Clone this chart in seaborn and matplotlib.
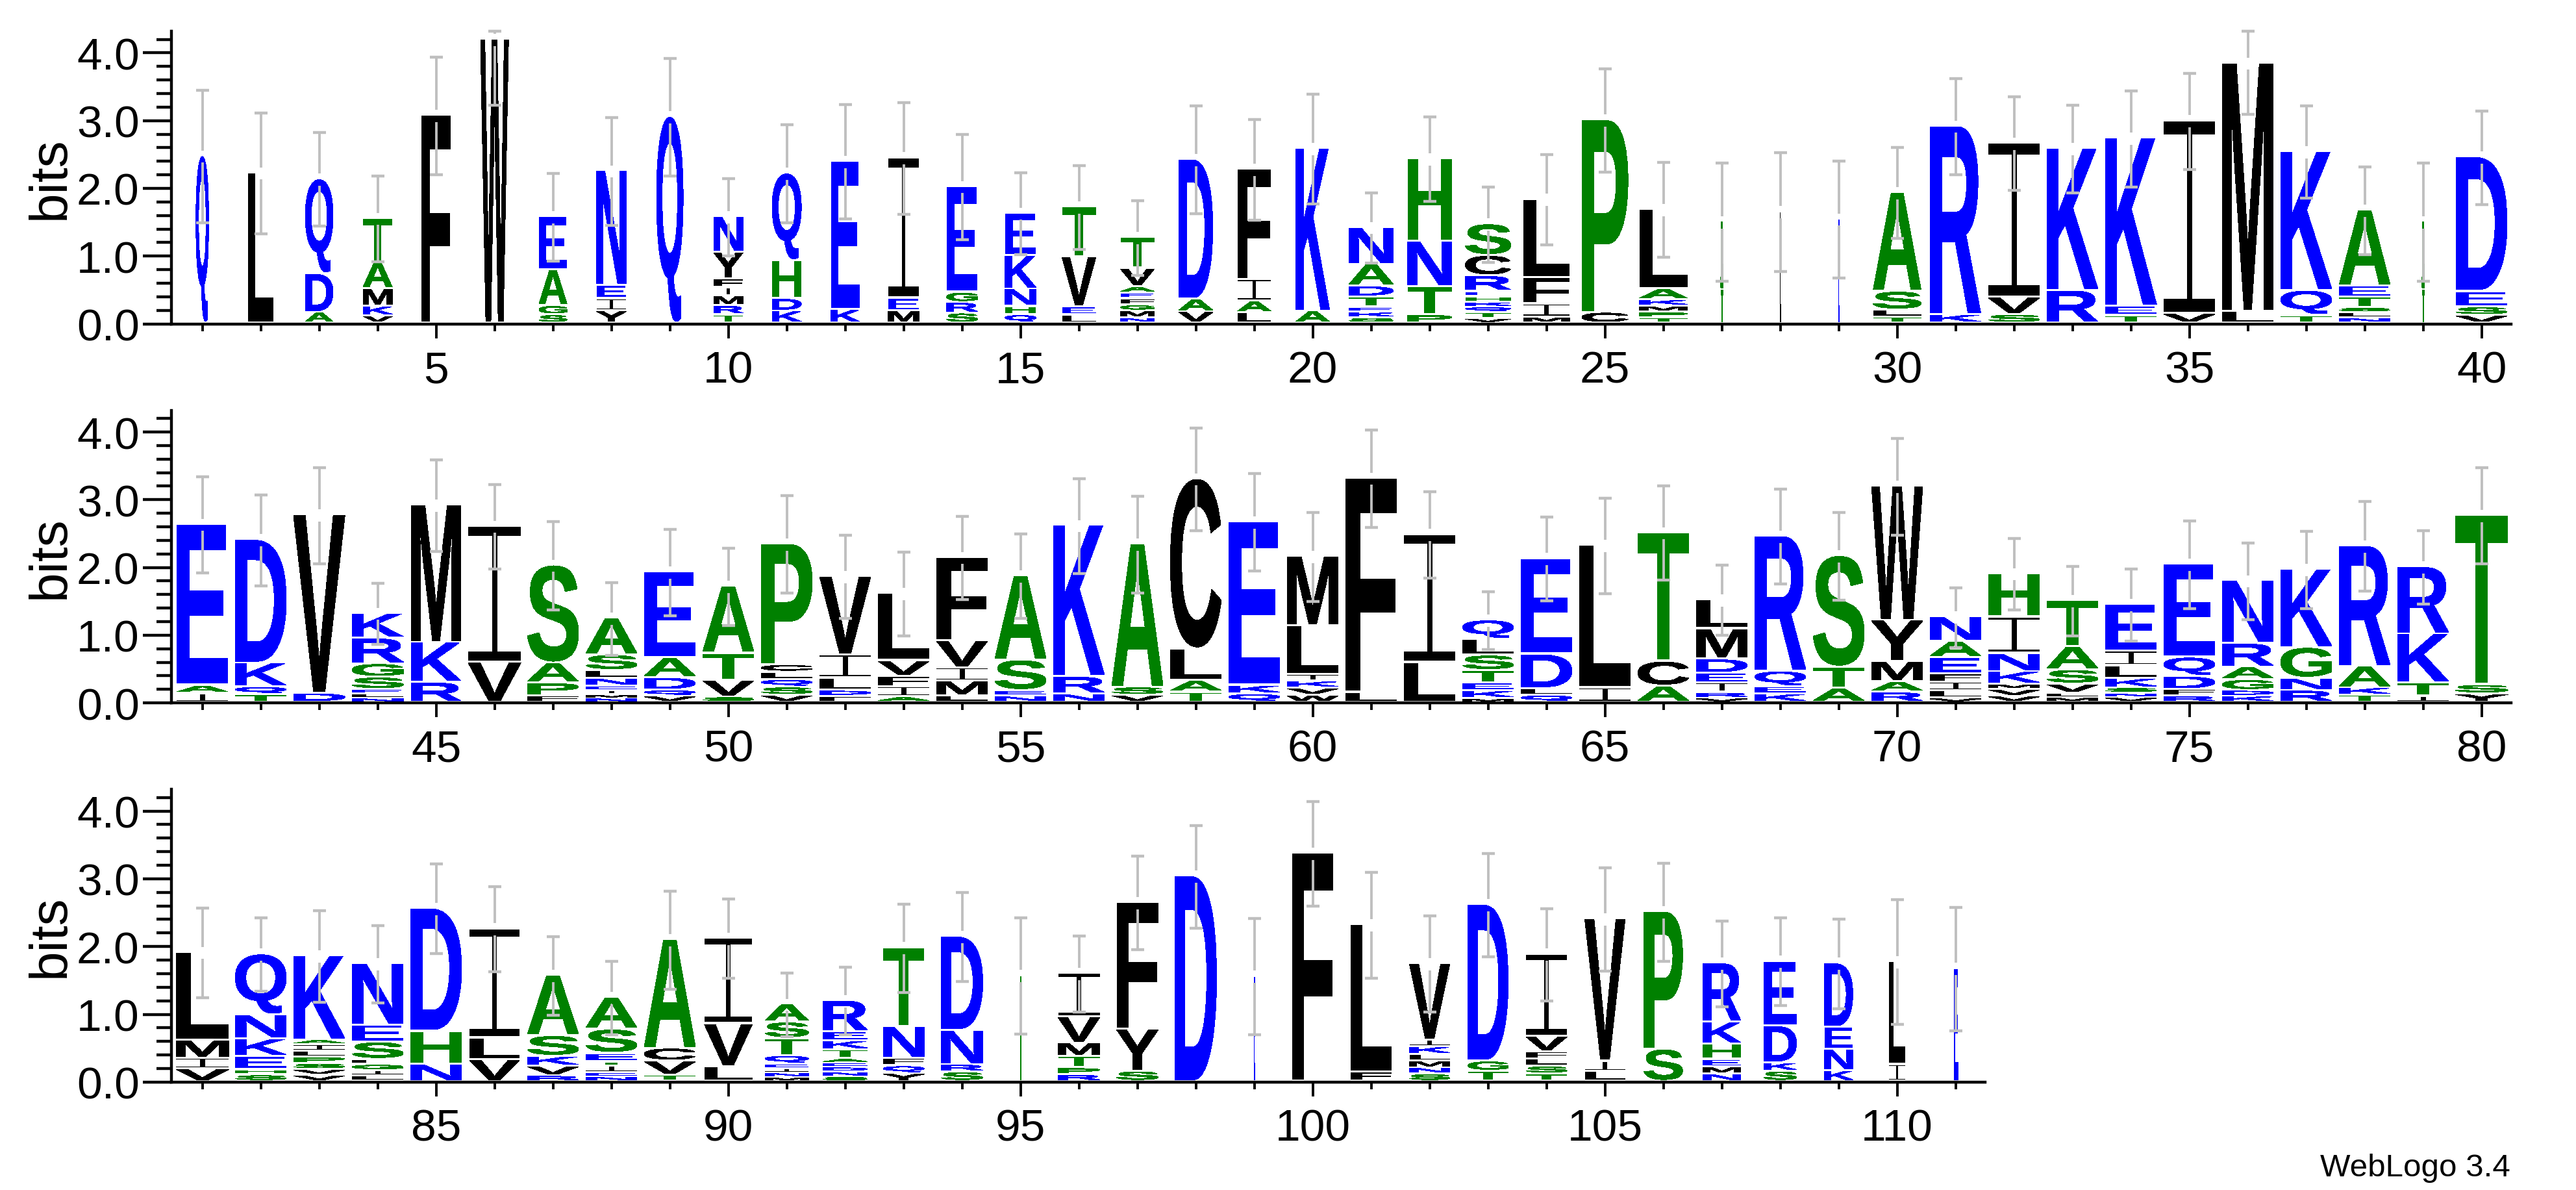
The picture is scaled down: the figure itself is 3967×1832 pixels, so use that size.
from matplotlib import pyplot as plt
from matplotlib.font_manager import FontProperties
from matplotlib.patches import PathPatch
from matplotlib.path import Path
from matplotlib.text import TextPath
from matplotlib.ticker import FixedLocator, MultipleLocator, FormatStrFormatter
from matplotlib.transforms import Affine2D
import seaborn as sns
import pandas as pd

# one entry per position, letters listed bottom to top
stack_letters = [
    "Q", "L", "ADQ", "VKMAT", "F", "W", "SGAE", "YIEN", "Q", "TRMIFYN",
    "KDHQ", "KE", "MEI", "SRGE", "QHNKE", "LEVT", "NMGFEAVT", "VAD", "LAIF", "AK",
    "SKETDAN", "PTNH", "VTQKHERCS", "MIFL", "CP", "TPMKAL", "TA", "L", "E", "TLSA",
    "KR", "SVI", "RK", "TEK", "VI", "LM", "TQK", "NLSTEA", "TA", "VSED",
    "IAE", "TQKD", "DV", "NLESGRK", "RKM", "VI", "FPAS", "NMIENLSA", "VQDAE", "SVTA",
    "VSQLCP", "FDLIV", "AIFVL", "LMIVF", "NESA", "NRK", "VSA", "TALC", "QKE", "WVKILM",
    "LF", "LI", "MKETSLQ", "QLDE", "IL", "ACT", "VRIEDML", "KEQR", "ATS", "RAMYW",
    "VLIFEAN", "VVMKNIH", "MLVSAT", "VNSKLIE", "RFDQE", "KDGARN", "RNGK", "TKAR", "ITKR", "YST",
    "VIML", "SHEKNQ", "VVSPLIAK", "LIGLSEN", "NHD", "VLI", "RVKSA", "NEITESA", "TVCA", "LVI",
    "MNIEQTSA", "SNDEATKER", "YQFNT", "SRND", "T", "RPTMVI", "SYF", "D", "E", "F",
    "FL", "SNMLKIV", "TGD", "TSLFVI", "LIV", "SP", "NMEHKR", "SKDE", "KNED", "IL",
    "E",
]
stack_heights = [
    [2.47], [2.22], [.16, .57, 1.40], [.11, .14, .26, .39, .65], [3.07], [4.19],
    [.125, .135, .53, .785], [.18, .185, .195, 1.69], [3.05],
    [.125, .135, .14, .125, .13, .395, .525],
    [.18, .185, .56, 1.29], [.20, 2.19], [.18, .19, 2.075], [.15, .155, .15, 1.565],
    [.125, .125, .255, .495, .625], [.12, .125, .735, .74],
    [.08, .10, .09, .09, .085, .095, .27, .46], [.17, .185, 2.065],
    [.155, .17, .32, 1.63], [.18, 2.40],
    [.08, .08, .075, .155, .16, .32, .545], [.125, .415, .67, 1.22],
    [.07, .09, .08, .07, .08, .08, .23, .30, .465], [.09, .195, .39, 1.155],
    [.16, 2.84], [.08, .085, .09, .09, .16, 1.175], [.50, 1.00], [1.65], [1.54],
    [.09, .105, .275, 1.46],
    [.13, 2.78], [.13, .25, 2.28], [.485, 2.095], [.115, .14, 2.475], [.14, 2.85],
    [.18, 3.66], [.115, .37, 2.05], [.08, .08, .07, .155, .165, 1.12], [.50, 1.00],
    [.115, .125, .23, 1.985],
    [.13, .12, 2.38], [.115, .115, .35, 1.82], [.135, 2.63],
    [.06, .065, .065, .18, .20, .375, .37], [.295, .59, 2.03], [.59, 2.01],
    [.10, .185, .295, 1.445], [.06, .055, .06, .065, .115, .115, .23, .54],
    [.09, .09, .185, .29, 1.27], [.08, .245, .40, .99],
    [.105, .12, .11, .11, .11, 1.785], [.09, .085, .185, .345, 1.155],
    [.08, .15, .155, .23, .995], [.10, .21, .20, .40, 1.23], [.09, .085, .45, 1.245],
    [.125, .255, 2.23], [.105, .12, 2.115], [.15, .17, .47, 2.51], [.125, .125, 2.415],
    [.105, .105, .10, .10, .72, 1.025],
    [.15, 3.16], [.59, 1.89], [.055, .115, .115, .185, .225, .235, .285],
    [.105, .095, .51, 1.415], [.215, 2.105], [.24, .365, 1.90],
    [.06, .085, .14, .145, .21, .445, .43], [.125, .105, .23, 1.995], [.205, .315, 1.645],
    [.15, .155, .30, .605, 1.98],
    [.06, .11, .125, .125, .24, .24, .36], [.09, .10, .08, .185, .265, .54, .64],
    [.07, .065, .135, .21, .345, .68], [.07, .065, .08, .135, .19, .215, .69],
    [.095, .095, .195, .28, 1.375], [.09, .085, .16, .185, .35, .925],
    [.175, .18, .455, 1.155], [.105, .11, .315, 1.78], [.09, .195, .725, .99],
    [.125, .135, 2.50],
    [.185, .16, .265, 1.295], [.095, .08, .195, .26, .35, .90],
    [.09, .085, .09, .095, .085, .095, .075, 1.24],
    [.08, .08, .09, .075, .255, .255, .905], [.25, .49, 1.815], [.32, .32, 1.615],
    [.085, .14, .145, .305, .89], [.07, .06, .10, .06, .125, .355, .47],
    [.095, .205, .19, 1.60], [.22, .63, 1.265],
    [.06, .065, .065, .065, .125, .255, .24, .265],
    [.07, .07, .07, .065, .06, .135, .13, .135, .46],
    [.115, .115, .115, .46, 1.17], [.14, .11, .505, 1.385], [1.565],
    [.10, .10, .17, .195, .385, .645], [.15, .62, 1.87], [3.03], [1.555], [3.37],
    [.14, 2.175], [.11, .09, .10, .10, .11, .105, 1.125], [.15, .15, 2.31],
    [.11, .115, .105, .11, .225, 1.215], [.15, .15, 2.10], [.475, 2.03],
    [.11, .10, .115, .225, .325, .87], [.15, .125, .545, .955], [.16, .315, .325, .945],
    [.25, 1.52], [1.67],
]
stack_widths = [
    .22, .44, .475, .50, .50, .48, .48, .505, .455, .50,
    .50, .49, .53, .53, .53, .58, .58, .58, .57, .575,
    .76, .755, .78, .79, .79, .82, .03, .01, .015, .82,
    .86, .87, .87, .88, .875, .875, .875, .87, .03, .875,
    .875, .875, .88, .88, .85, .90, .875, .875, .875, .875,
    .875, .875, .875, .875, .875, .875, .875, .875, .875, .875,
    .875, .875, .875, .875, .875, .875, .875, .875, .875, .875,
    .875, .875, .875, .875, .875, .875, .875, .875, .875, .90,
    .90, .875, .875, .875, .875, .85, .875, .875, .875, .82,
    .745, .76, .70, .71, .015, .71, .71, .71, .015, .70,
    .70, .69, .69, .70, .69, .66, .65, .56, .485, .28,
    .065,
]
stack_errors = [
    .975, .89, .69, .63, .865, .96, .65, .795, .865, .57,
    .72, .845, .825, .775, .605, .62, .55, .795, .745, .81,
    .52, .62, .555, .665, .76, .70, .87, .875, .865, .67,
    .71, .69, .65, .71, .71, .745, .68, .65, .87, .69,
    .71, .67, .71, .45, .675, .62, .65, .54, .64, .57,
    .72, .615, .62, .61, .625, .70, .715, .76, .72, .655,
    .715, .635, .43, .62, .705, .695, .52, .70, .65, .71,
    .44, .53, .515, .535, .645, .565, .57, .66, .545, .71,
    .66, .54, .675, .57, .66, .63, .58, .545, .725, .585,
    .47, .50, .65, .655, .855, .56, .69, .76, .855, .77,
    .78, .71, .76, .68, .76, .72, .635, .645, .66, .92,
    .91,
]
row_starts = [1, 41, 81]
row_ends = [40, 80, 111]
row_zero_px = [499.6, 1083.2, 1666.8]
ymax_bits = 4.32

BLUE_LETTERS = "DEKNQR"
GREEN_LETTERS = "AGHPST"
FIG_W, FIG_H = 3967, 1833
PX_PER_BIT = 104.3
PX_PER_POS = 90.0
GAP_BITS = .035
BAR_GAP = .09
GREY = '#bfbfbf'

sns.set_style("ticks")
plt.rcParams['font.family'] = ['Liberation Sans', 'DejaVu Sans']

bold = FontProperties(family='Liberation Sans', weight='bold')

# the logo's I is a thin stem with two bars, no installed font has that shape
glyph_i = Path([(0, 0), (1, 0), (1, .07), (.55, .07), (.55, .93), (1, .93), (1, 1),
                (0, 1), (0, .93), (.45, .93), (.45, .07), (0, .07), (0, 0)], closed=True)


def letterColor(letter):
    if letter in BLUE_LETTERS:
        return '#0000ff'
    if letter in GREEN_LETTERS:
        return '#008000'
    return '#000000'


def drawLetter(ax, letter, pos, bottom, top, width):
    tp = glyph_i if letter == 'I' else TextPath((0, 0), letter, size=1, prop=bold)
    box = tp.get_extents()
    tr = (Affine2D().translate(-box.x0, -box.y0)
          .scale(width / box.width, (top - bottom) / box.height)
          .translate(pos - width / 2, bottom))
    color = letterColor(letter)
    # the sliver stacks would vanish without an outline
    edge = .6 if width < .1 else 0
    ax.add_patch(PathPatch(tr.transform_path(tp), facecolor=color, edgecolor=color, lw=edge,
                           antialiased=False, transform=ax.transData, zorder=2))


def drawRow(fig, start, end, zero_px):
    left_px = 264.0
    first_px = 311.6
    xlim = (start - (first_px - left_px) / PX_PER_POS, end + .5)
    width_px = (xlim[1] - xlim[0]) * PX_PER_POS
    height_px = ymax_bits * PX_PER_BIT
    ax = fig.add_axes([left_px / FIG_W, 1 - zero_px / FIG_H, width_px / FIG_W, height_px / FIG_H])
    ax.patch.set_alpha(0)

    rows = []
    for pos in range(start, end + 1):
        letters = stack_letters[pos - 1]
        heights = stack_heights[pos - 1]
        width = stack_widths[pos - 1]
        base = 0.0
        for letter, h in zip(letters, heights):
            ink = max(h - GAP_BITS, h * .55)
            drawLetter(ax, letter, pos, base + h - ink, base + h, width)
            base += h
        err = stack_errors[pos - 1]
        rows.append({'pos': pos, 'total': base, 'upper': min(base + err, ymax_bits), 'lower': base - err})
    df = pd.DataFrame(rows)

    ax.vlines(df.pos, df.total + BAR_GAP, df.upper, color=GREY, lw=2.8, zorder=3)
    ax.vlines(df.pos, df.lower, df.total - BAR_GAP, color=GREY, lw=2.8, zorder=3)
    caps = df.melt(id_vars='pos', value_vars=['upper', 'lower'], value_name='bits')
    sns.scatterplot(data=caps, x='pos', y='bits', marker='_', color=GREY, s=210, linewidth=3.2,
                    legend=False, clip_on=False, zorder=3, ax=ax)

    ax.set_xlim(*xlim)
    ax.set_ylim(0, ymax_bits)
    ax.set_xlabel('')
    ax.set_ylabel('bits', fontsize=59, color='black')
    ax.yaxis.set_label_coords((116 - left_px) / width_px, .5)
    ax.yaxis.label.set_verticalalignment('bottom')

    sns.despine(ax=ax)
    for side in ['left', 'bottom']:
        ax.spines[side].set_linewidth(3.2)
        ax.spines[side].set_color('black')

    ax.xaxis.set_major_locator(FixedLocator([p for p in range(start, end + 1) if p % 5 == 0]))
    ax.xaxis.set_minor_locator(FixedLocator([p for p in range(start, end + 1) if p % 5 != 0]))
    ax.yaxis.set_major_locator(MultipleLocator(1))
    ax.yaxis.set_minor_locator(MultipleLocator(.2))
    ax.yaxis.set_major_formatter(FormatStrFormatter('%.1f'))
    ax.tick_params(axis='x', which='major', length=15.5, width=2.8, pad=13, labelsize=50, color='black', labelcolor='black')
    ax.tick_params(axis='x', which='minor', length=8, width=2.8, color='black')
    ax.tick_params(axis='y', which='major', length=32, width=3.2, pad=3.5, labelsize=50, color='black', labelcolor='black')
    ax.tick_params(axis='y', which='minor', length=16.5, width=3.2, color='black')
    return ax


fig = plt.figure(figsize=(FIG_W / 100, FIG_H / 100), dpi=100, facecolor='white')
for start, end, zero_px in zip(row_starts, row_ends, row_zero_px):
    drawRow(fig, start, end, zero_px)
fig.text(3866 / FIG_W, 1 - 1799 / FIG_H, 'WebLogo 3.4', fontsize=35.5, ha='right', va='center', color='black')
fig.savefig('out.png', dpi=100)
